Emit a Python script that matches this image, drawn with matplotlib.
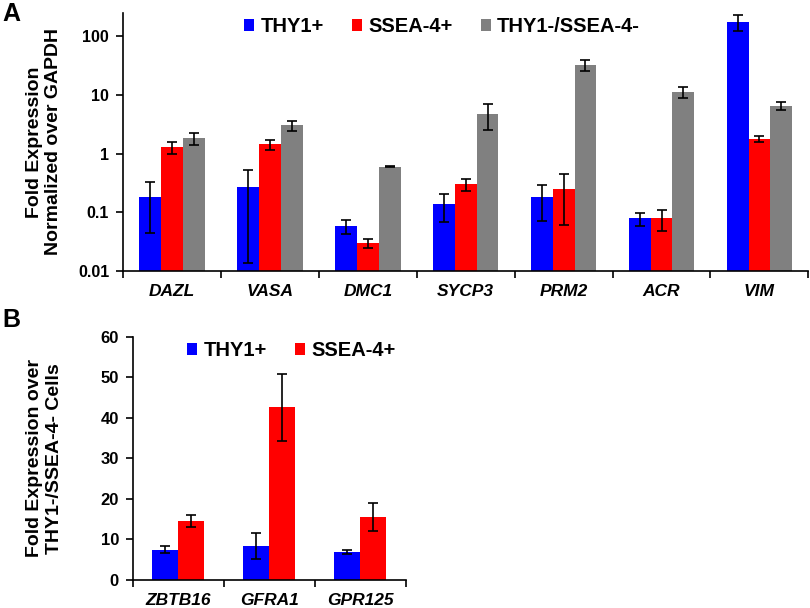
import numpy as np
import matplotlib
matplotlib.use('Agg')
import matplotlib.pyplot as plt
from matplotlib.ticker import FixedLocator, NullLocator, NullFormatter

plt.rcParams['font.family'] = ['Liberation Sans', 'DejaVu Sans']
plt.rcParams['font.weight'] = 'bold'
plt.rcParams['axes.labelweight'] = 'bold'

# panel A data
genes_a = ['DAZL', 'VASA', 'DMC1', 'SYCP3', 'PRM2', 'ACR', 'VIM']
thy1_a = [0.185, 0.274, 0.058, 0.139, 0.18, 0.079, 175]
thy1_a_err = [0.14, 0.26, 0.015, 0.07, 0.11, 0.02, 53]
ssea_a = [1.30, 1.44, 0.030, 0.30, 0.25, 0.079, 1.75]
ssea_a_err = [0.30, 0.27, 0.005, 0.065, 0.19, 0.03, 0.2]
neg_a = [1.82, 3.0, 0.60, 4.68, 32, 11, 6.5]
neg_a_err = [0.4, 0.6, 0.01, 2.2, 7, 2.3, 1.1]

# panel B data
genes_b = ['ZBTB16', 'GFRA1', 'GPR125']
thy1_b = [7.5, 8.4, 6.8]
thy1_b_err = [0.9, 3.3, 0.5]
ssea_b = [14.6, 42.6, 15.6]
ssea_b_err = [1.5, 8.2, 3.5]

blue = '#0000FF'
red = '#FF0000'
gray = '#808080'

fig = plt.figure(figsize=(8.1, 6.08), dpi=100)

def style_axes(ax, n, ysize):
    for s in ['top', 'right']:
        ax.spines[s].set_visible(False)
    ax.spines['left'].set_linewidth(1.2)
    ax.spines['bottom'].set_linewidth(1.2)
    ax.set_xlim(-0.5, n - 0.5)
    ax.set_xticks(np.arange(n))
    ax.xaxis.set_minor_locator(FixedLocator(np.arange(n + 1) - 0.5))
    ax.tick_params(axis='x', which='major', length=0, pad=9)
    ax.tick_params(axis='x', which='minor', length=5, width=1.2, direction='out')
    ax.tick_params(axis='y', which='major', length=5, width=1.2, direction='out',
                   labelsize=ysize, pad=5)

ekw = dict(ecolor='black', capsize=3.6, elinewidth=1.2, capthick=1.2)
leg_kw = dict(frameon=False, fontsize=14.5, handlelength=0.5, handleheight=0.5,
              handletextpad=0.3, columnspacing=1.4, borderaxespad=0)

# ---- panel A ----
axA = fig.add_axes([0.152, 0.554, 0.846, 0.425])
x = np.arange(len(genes_a))
w = 0.223
axA.bar(x - w, thy1_a, w, color=blue, yerr=thy1_a_err, error_kw=ekw, label='THY1+')
axA.bar(x, ssea_a, w, color=red, yerr=ssea_a_err, error_kw=ekw, label='SSEA-4+')
axA.bar(x + w, neg_a, w, color=gray, yerr=neg_a_err, error_kw=ekw, label='THY1-/SSEA-4-')
axA.set_yscale('log')
axA.set_ylim(0.01, 247)
style_axes(axA, len(genes_a), 11.5)
axA.yaxis.set_major_locator(FixedLocator([0.01, 0.1, 1, 10, 100]))
axA.yaxis.set_minor_locator(NullLocator())
axA.yaxis.set_minor_formatter(NullFormatter())
axA.set_yticklabels(['0.01', '0.1', '1', '10', '100'])
axA.set_xticklabels(genes_a, fontstyle='italic', fontsize=12.5)
axA.set_ylabel('Fold Expression\nNormalized over GAPDH', fontsize=14)
axA.yaxis.set_label_coords(-0.089, 0.5)
axA.legend(loc='upper left', bbox_to_anchor=(0.165, 1.015), ncol=3, **leg_kw)

# ---- panel B ----
axB = fig.add_axes([0.164, 0.046, 0.337, 0.4])
xb = np.arange(len(genes_b))
wb = 0.286
axB.bar(xb - wb / 2, thy1_b, wb, color=blue, yerr=thy1_b_err, error_kw=ekw, label='THY1+')
axB.bar(xb + wb / 2, ssea_b, wb, color=red, yerr=ssea_b_err, error_kw=ekw, label='SSEA-4+')
axB.set_ylim(0, 60)
style_axes(axB, len(genes_b), 12)
axB.set_yticks([0, 10, 20, 30, 40, 50, 60])
axB.set_xticklabels(genes_b, fontstyle='italic', fontsize=12.5)
axB.set_ylabel('Fold Expression over\nTHY1-/SSEA-4- Cells', fontsize=14)
axB.yaxis.set_label_coords(-0.256, 0.5)
axB.legend(loc='upper left', bbox_to_anchor=(0.17, 1.015), ncol=2, **leg_kw)

fig.text(0.003, 0.997, 'A', fontsize=18, fontweight='bold', va='top', ha='left')
fig.text(0.003, 0.494, 'B', fontsize=18, fontweight='bold', va='top', ha='left')

fig.savefig('out.png', dpi=100)
